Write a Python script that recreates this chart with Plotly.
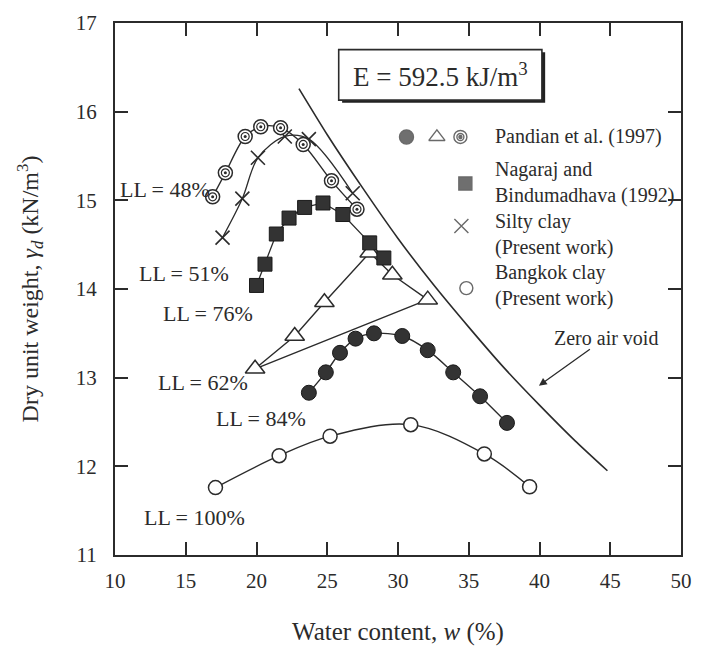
import plotly.graph_objects as go

# --- Bangkok clay (present work), LL = 100%
bkk_w = [17.1, 21.6, 25.2, 30.9, 36.1, 39.3]
bkk_g = [11.76, 12.12, 12.34, 12.47, 12.14, 11.77]

# --- Pandian et al. (1997), LL = 84% (filled circles)
p84_w = [23.7, 24.9, 25.9, 27.0, 28.3, 30.3, 32.1, 33.9, 35.8, 37.7]
p84_g = [12.83, 13.06, 13.28, 13.44, 13.50, 13.47, 13.31, 13.06, 12.79, 12.49]

# --- Pandian et al. (1997), LL = 62% / 76% (triangles)
p62_w = [19.9, 22.7, 24.8, 28.0, 29.6, 32.1]
p62_g = [13.10, 13.47, 13.85, 14.41, 14.16, 13.88]

# --- Pandian et al. (1997), LL = 48% (ringed circles)
p48_w = [16.9, 17.8, 19.2, 20.3, 21.7, 23.3, 25.3, 27.1]
p48_g = [15.04, 15.31, 15.72, 15.83, 15.82, 15.63, 15.22, 14.90]

# --- Nagaraj and Bindumadhava (1992), LL = 51% (squares)
nb_w = [20.0, 20.6, 21.4, 22.3, 23.4, 24.7, 26.1, 28.0, 29.0]
nb_g = [14.04, 14.28, 14.62, 14.80, 14.92, 14.97, 14.84, 14.52, 14.35]

# --- Silty clay (present work)
sc_w = [17.6, 19.0, 20.1, 22.0, 23.7, 26.8]
sc_g = [14.58, 15.02, 15.48, 15.72, 15.69, 15.08]

# --- Zero air void curve
zav_w = [23.0, 25.0, 27.5, 30.0, 32.5, 35.0, 37.5, 40.0, 42.5, 44.8]
zav_g = [16.26, 15.74, 15.14, 14.57, 14.05, 13.57, 13.11, 12.69, 12.29, 11.95]

x_ticks = [10, 15, 20, 25, 30, 35, 40, 45, 50]
y_ticks = [11, 12, 13, 14, 15, 16, 17]

INK = "#2b2b2b"
SERIF = "Liberation Serif, Times New Roman, serif"

fig = go.Figure()

# zero air void
fig.add_trace(go.Scatter(x=zav_w, y=zav_g, mode="lines",
                         line=dict(color=INK, width=1.6, shape="spline", smoothing=0.6)))

# Bangkok clay
fig.add_trace(go.Scatter(x=bkk_w, y=bkk_g, mode="lines+markers",
                         line=dict(color=INK, width=1.4, shape="spline", smoothing=1.0),
                         marker=dict(symbol="circle", size=14, color="white",
                                     line=dict(color=INK, width=1.5))))

# LL = 84 %
fig.add_trace(go.Scatter(x=p84_w, y=p84_g, mode="lines+markers",
                         line=dict(color=INK, width=1.4, shape="spline", smoothing=0.8),
                         marker=dict(symbol="circle", size=15, color="#333333",
                                     line=dict(color="#1a1a1a", width=1))))

# LL = 62 % / 76 % : polyline closed back to the first point
tri_w = p62_w + [p62_w[0]]
tri_g = p62_g + [p62_g[0]]
fig.add_trace(go.Scatter(x=tri_w, y=tri_g, mode="lines",
                         line=dict(color=INK, width=1.4)))
fig.add_trace(go.Scatter(x=p62_w, y=p62_g, mode="markers",
                         marker=dict(symbol="triangle-up", size=17, color="white",
                                     line=dict(color=INK, width=1.5))))

# Nagaraj and Bindumadhava
fig.add_trace(go.Scatter(x=nb_w, y=nb_g, mode="lines+markers",
                         line=dict(color=INK, width=1.3),
                         marker=dict(symbol="square", size=14, color="#333333",
                                     line=dict(color="#1a1a1a", width=1))))

# Silty clay
fig.add_trace(go.Scatter(x=sc_w, y=sc_g, mode="lines+markers",
                         line=dict(color=INK, width=1.3, shape="spline", smoothing=0.9),
                         marker=dict(symbol="x-thin", size=14,
                                     line=dict(color=INK, width=1.6))))

# LL = 48 % ringed circles
fig.add_trace(go.Scatter(x=p48_w, y=p48_g, mode="lines+markers",
                         line=dict(color=INK, width=1.4, shape="spline", smoothing=0.9),
                         marker=dict(symbol="circle", size=14, color="white",
                                     line=dict(color=INK, width=1.5))))
fig.add_trace(go.Scatter(x=p48_w, y=p48_g, mode="markers",
                         marker=dict(symbol="circle", size=8, color="white",
                                     line=dict(color=INK, width=1.2))))
fig.add_trace(go.Scatter(x=p48_w, y=p48_g, mode="markers",
                         marker=dict(symbol="circle", size=3, color=INK)))

# legend symbols
leg_sym_x = [30.6, 32.75, 34.41, 34.41, 34.41, 34.76, 34.48, 34.83]
leg_sym_y = [15.715, 15.715, 15.715, 15.715, 15.715, 15.19, 14.71, 14.01]
leg_symbols = ["circle", "triangle-up", "circle", "circle", "circle", "square", "x-thin", "circle"]
leg_sizes = [14, 14, 13, 7, 3, 13, 14, 13]
leg_fill = ["#333333", "white", "white", "white", INK, "#333333", INK, "white"]
fig.add_trace(go.Scatter(x=leg_sym_x, y=leg_sym_y, mode="markers",
                         marker=dict(symbol=leg_symbols, size=leg_sizes, color=leg_fill,
                                     line=dict(color=INK, width=1.4))))

fig.update_traces(showlegend=False, hoverinfo="skip")

# legend texts (one block per entry)
leg_text = [("Pandian et al. (1997)", 15.715),
            ("Nagaraj and<br>Bindumadhava (1992)", 15.205),
            ("Silty clay<br>(Present work)", 14.615),
            ("Bangkok clay<br>(Present work)", 14.04)]
for t, yy in leg_text:
    fig.add_annotation(x=36.7, y=yy, text=t, showarrow=False, xanchor="left",
                       yanchor="middle", align="left",
                       font=dict(family=SERIF, size=20, color=INK))

# LL labels
ll_labels = [("LL = 48%", 13.5, 15.12), ("LL = 51%", 14.9, 14.17),
             ("LL = 76%", 16.6, 13.72), ("LL = 62%", 16.2, 12.94),
             ("LL = 84%", 20.3, 12.54), ("LL = 100%", 15.6, 11.42)]
for t, xx, yy in ll_labels:
    fig.add_annotation(x=xx, y=yy, text=t, showarrow=False, xanchor="center",
                       yanchor="middle", font=dict(family=SERIF, size=22, color=INK))

# zero air void label with arrow
fig.add_annotation(x=39.96, y=12.91, text="Zero air void", showarrow=True,
                   axref="x", ayref="y", ax=44.7, ay=13.45,
                   arrowhead=2, arrowsize=1.2, arrowwidth=1.3, arrowcolor=INK,
                   standoff=0, borderpad=0,
                   font=dict(family=SERIF, size=20, color=INK))

# energy box with drop shadow
fig.add_shape(type="rect", x0=26.05, x1=40.40, y0=16.10, y1=16.67,
              fillcolor="#222222", line=dict(width=0))
fig.add_shape(type="rect", x0=25.81, x1=40.17, y0=16.13, y1=16.70,
              fillcolor="white", line=dict(color=INK, width=1.6))
fig.add_annotation(x=33.0, y=16.415, text="E = 592.5 kJ/m<sup>3</sup>", showarrow=False,
                   font=dict(family=SERIF, size=27, color=INK))

axis_common = dict(showline=True, linecolor=INK, linewidth=2, mirror="ticks",
                   ticks="inside", ticklen=13, tickwidth=1.6, tickcolor=INK,
                   showgrid=False, zeroline=False,
                   tickfont=dict(family=SERIF, size=21, color=INK))

fig.update_xaxes(range=[10, 50], tickvals=x_ticks, ticklabelstandoff=6,
                 title=dict(text="Water content, <i>w</i> (%)", standoff=30,
                            font=dict(family=SERIF, size=25, color=INK)),
                 **axis_common)
fig.update_yaxes(range=[11, 17], tickvals=y_ticks, ticklabelstandoff=12,
                 title=dict(text="Dry unit weight, <i>γ<sub>d</sub></i> (kN/m<sup>3</sup>)",
                            standoff=30, font=dict(family=SERIF, size=24, color=INK)),
                 **axis_common)

fig.update_layout(width=703, height=652, plot_bgcolor="white", paper_bgcolor="white",
                  margin=dict(l=115, r=11, t=20, b=95))

fig.write_html("out.html")
